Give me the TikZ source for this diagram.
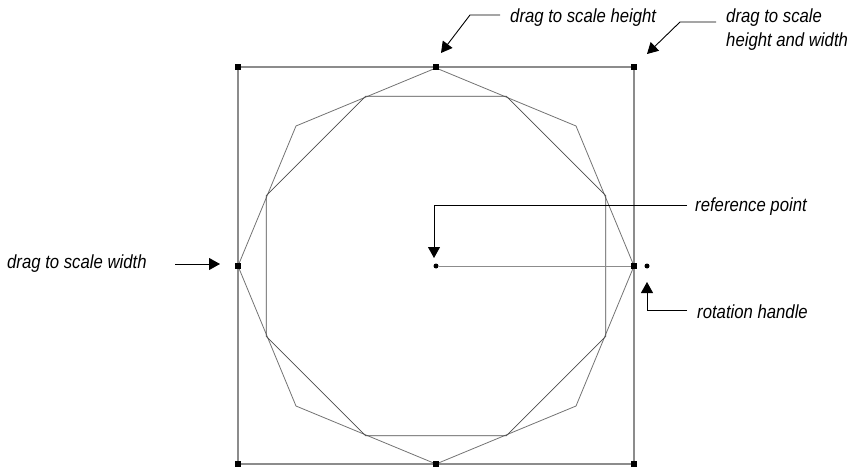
\documentclass[tikz,border=0pt]{standalone}
\usepackage{fontspec}
\setmainfont{Liberation Sans}[FakeStretch=0.88]
\usetikzlibrary{arrows.meta,calc}
\tikzset{
  >={Triangle[length=11pt,width=12pt]},
  handle/.style={fill=black,minimum size=6.5pt,inner sep=0pt},
  refdot/.style={circle,fill=black,minimum size=5pt,inner sep=0pt},
  boxline/.style={line width=1.2pt,black!45},
  outgon/.style={line width=0.8pt,black!55},
  ingon/.style={line width=0.8pt,black!70},
  callout/.style={->,line width=0.9pt},
  lbl/.style={font=\fontsize{19}{24}\selectfont\itshape,inner sep=0pt,
    anchor=base west,align=left},
}

\begin{document}
\begin{tikzpicture}[x=1pt,y=-1pt]
  \useasboundingbox (0,0) rectangle (859,468);
  \coordinate (ctr) at (436,266);
  % octagons
  \draw[outgon] (ctr) ++(0:198) \foreach \a in {45,90,...,315} { -- ($(ctr)+(\a:198)$) } -- cycle;
  \draw[ingon] ($(ctr)+(22.5:183.8)$) \foreach \a in {67.5,112.5,...,337.5} { -- ($(ctr)+(\a:183.8)$) } -- cycle;
  % bounding box and handles
  \draw[boxline] (238,67) rectangle (634,464);
  \node[handle] (hTL) at (238,67) {};
  \node[handle] (hTM) at (436,67) {};
  \node[handle] (hTR) at (634,67) {};
  \node[handle] (hML) at (238,266) {};
  \node[handle] (hMR) at (634,266) {};
  \node[handle] (hBL) at (238,464) {};
  \node[handle] (hBM) at (436,464) {};
  \node[handle] (hBR) at (634,464) {};
  \node[refdot] (rp) at (ctr) {};
  \node[refdot] (rot) at (647,266) {};
  \draw[boxline,line width=1pt] (rp) -- (hMR);
  % labels
  \node[lbl] (lblH) at (510,23) {drag to scale height};
  \node[lbl] (lblHW) at (726,47) {drag to scale\\height and width};
  \node[lbl] (lblW) at (7,268) {drag to scale width};
  \node[lbl] (lblRef) at (695,211) {reference point};
  \node[lbl] (lblRot) at (697,318) {rotation handle};
  % callouts
  \coordinate (sH) at (500,15);   \coordinate (bH) at (470,15);   \coordinate (tH) at (441,53);
  \coordinate (sHW) at (716,22);  \coordinate (bHW) at (680,22);  \coordinate (tHW) at (647,54);
  \coordinate (sW) at (175,264);  \coordinate (tW) at (220,264);
  \coordinate (sRef) at (687,205); \coordinate (bRef) at (434,205); \coordinate (tRef) at (434,258);
  \coordinate (sRot) at (687,310); \coordinate (bRot) at (647,310); \coordinate (tRot) at (647,282);
  \draw[callout] (sH) -- (bH) -- (tH);
  \draw[callout] (sHW) -- (bHW) -- (tHW);
  \draw[callout] (sW) -- (tW);
  \draw[callout] (sRef) -- (bRef) -- (tRef);
  \draw[callout] (sRot) -- (bRot) -- (tRot);
\end{tikzpicture}
\end{document}
